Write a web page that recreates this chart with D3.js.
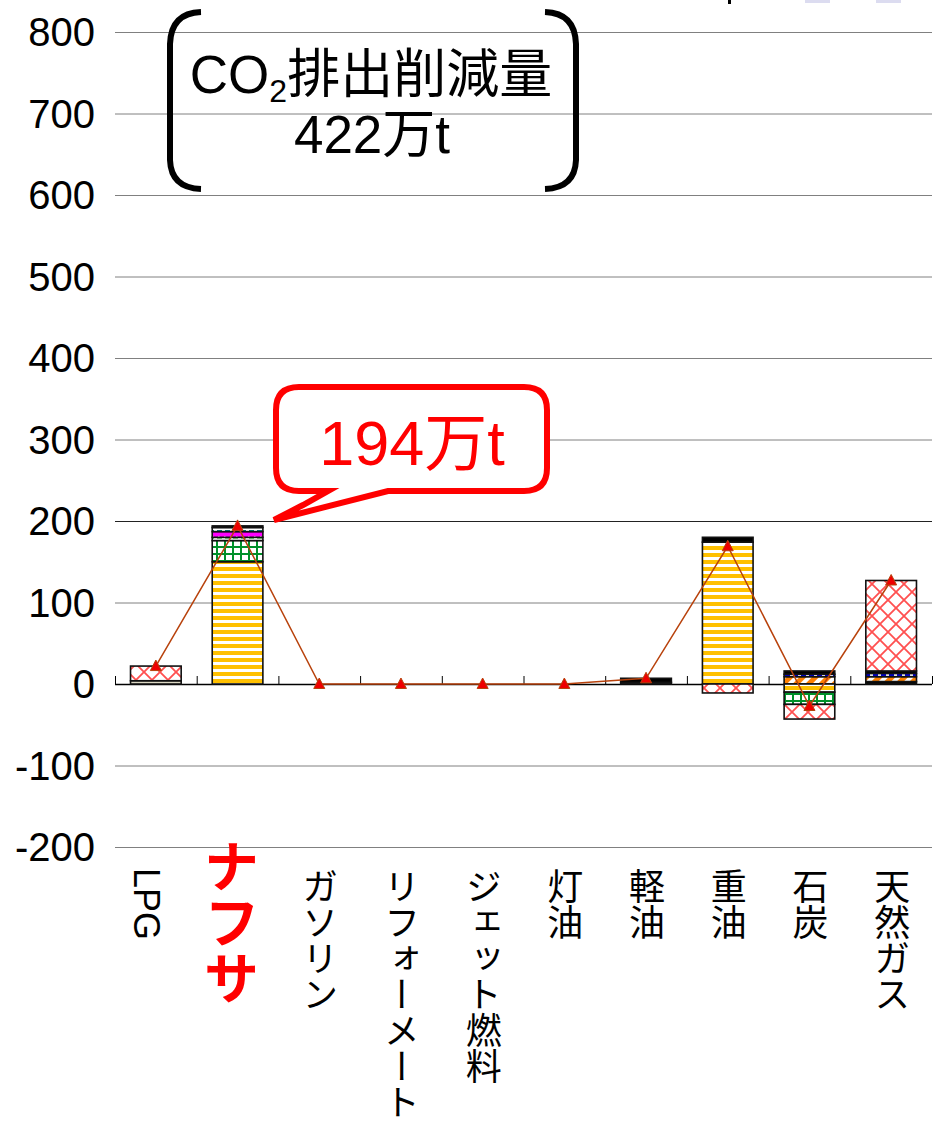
<!DOCTYPE html>
<html>
<head>
<meta charset="utf-8">
<script src="https://cdn.jsdelivr.net/npm/d3@7/dist/d3.min.js"></script>
<style>
  html, body { margin: 0; padding: 0; background: #fff; }
  svg { display: block; }
  text { font-family: "Liberation Sans", Arial, "Noto Sans CJK JP", sans-serif; }
</style>
</head>
<body>
<svg id="chart" width="942" height="1135"></svg>
<script>
// Fuel categories along the x axis
const categories = ["LPG", "ナフサ", "ガソリン", "リフォーメート", "ジェット燃料", "灯油", "軽油", "重油", "石炭", "天然ガス"];

// Stacked components (万t-CO2), bottom to top in stacking order
const beige     = [4, 0, 0, 0, 0, 0, 2, 0, 0, 0];
const blackA    = [0, 0, 0, 0, 0, 0, 5, 0, 0, 3];
const orange    = [0, 0, 0, 0, 0, 0, 0, 0, 9, 6];
const yellow    = [0, 150, 0, 0, 0, 0, 0, 174, -10, 0];
const greenGrid = [0, 26, 0, 0, 0, 0, 0, 0, -15, 0];
const greenDash = [0, 4, 0, 0, 0, 0, 0, 0, 0, 0];
const magenta   = [0, 7, 0, 0, 0, 0, 0, 0, 0, 0];
const tealDash  = [0, 5, 0, 0, 0, 0, 0, 0, 0, 0];
const blueDash  = [0, 0, 0, 0, 0, 0, 0, 0, 3, 4];
const blackB    = [0, 2, 0, 0, 0, 0, 0, 6, 4, 3];
const cross     = [18, 0, 0, 0, 0, 0, 0, -11, -18, 111];

// Net total per fuel (line with triangle markers)
const totals = [22, 194, 0, 0, 0, 0, 7, 169, -27, 127];

// Y axis ticks
const yTicks = [-200, -100, 0, 100, 200, 300, 400, 500, 600, 700, 800];

const seriesDefs = [
  { key: "beige", values: beige, fill: "#dcd8c4" },
  { key: "blackA", values: blackA, fill: "#000" },
  { key: "orange", values: orange, fill: "url(#pOrange)" },
  { key: "yellow", values: yellow, fill: "url(#pYellow)" },
  { key: "greenGrid", values: greenGrid, fill: "url(#pGreenGrid)" },
  { key: "greenDash", values: greenDash, fill: "url(#pGreenDash)" },
  { key: "magenta", values: magenta, fill: "url(#pMagenta)" },
  { key: "tealDash", values: tealDash, fill: "url(#pTealDash)" },
  { key: "blueDash", values: blueDash, fill: "url(#pBlueDash)" },
  { key: "blackB", values: blackB, fill: "#000" },
  { key: "cross", values: cross, fill: "url(#pCross)" }
];

const svg = d3.select("#chart");
const plotLeft = 115, plotRight = 932, plotTop = 32, plotBottom = 847;

const x = d3.scaleBand().domain(categories).range([plotLeft, plotRight]).padding(0);
const y = d3.scaleLinear().domain([-200, 800]).range([plotBottom, plotTop]);
const barW = x.bandwidth() * 0.62;

// ---- patterns ----
const defs = svg.append("defs");
function pat(id, w, h, build, transform) {
  const p = defs.append("pattern").attr("id", id)
    .attr("patternUnits", "userSpaceOnUse").attr("width", w).attr("height", h);
  if (transform) p.attr("patternTransform", transform);
  build(p);
}
pat("pYellow", 8, 7, p => {
  p.append("rect").attr("width", 8).attr("height", 7).attr("fill", "#fff");
  p.append("rect").attr("width", 8).attr("height", 4).attr("fill", "#ffc000");
});
pat("pGreenGrid", 8, 7, p => {
  p.append("rect").attr("width", 8).attr("height", 7).attr("fill", "#fff");
  p.append("rect").attr("width", 8).attr("height", 2).attr("fill", "#00902a");
  p.append("rect").attr("width", 2).attr("height", 7).attr("fill", "#00902a");
});
pat("pCross", 16, 16, p => {
  p.append("rect").attr("width", 16).attr("height", 16).attr("fill", "#fff");
  p.append("path").attr("d", "M0,0L16,16M16,0L0,16M-1,15L1,17M15,-1L17,1")
    .attr("stroke", "#ff5050").attr("stroke-width", 1.8).attr("fill", "none");
});
pat("pOrange", 9, 9, p => {
  p.append("rect").attr("width", 9).attr("height", 9).attr("fill", "#fff");
  p.append("rect").attr("width", 5).attr("height", 9).attr("fill", "#ff8000");
}, "rotate(45)");
pat("pBlueDash", 8, 6, p => {
  p.append("rect").attr("width", 8).attr("height", 6).attr("fill", "#fff");
  p.append("rect").attr("x", 1).attr("y", 2).attr("width", 5).attr("height", 2).attr("fill", "#0000e0");
});
pat("pTealDash", 8, 6, p => {
  p.append("rect").attr("width", 8).attr("height", 6).attr("fill", "#fff");
  p.append("rect").attr("x", 1).attr("y", 2).attr("width", 5).attr("height", 2).attr("fill", "#008080");
});
pat("pGreenDash", 8, 5, p => {
  p.append("rect").attr("width", 8).attr("height", 5).attr("fill", "#fff");
  p.append("rect").attr("x", 1).attr("y", 2).attr("width", 5).attr("height", 1.5).attr("fill", "#00a000");
});
pat("pMagenta", 6, 6, p => {
  p.append("rect").attr("width", 6).attr("height", 6).attr("fill", "#ff00ff");
  p.append("rect").attr("x", 2).attr("y", 2).attr("width", 1.5).attr("height", 1.5).attr("fill", "#fff");
});

// ---- gridlines and y labels ----
const grid = svg.append("g");
grid.selectAll("line").data(yTicks).join("line")
  .attr("x1", plotLeft).attr("x2", plotRight)
  .attr("y1", d => y(d) + 0.5).attr("y2", d => y(d) + 0.5)
  .attr("stroke", d => d === 0 ? "#000" : (d === 200 ? "#222" : "#808080"))
  .attr("stroke-width", d => d === 0 ? 1.5 : 1);

svg.append("g").selectAll("text").data(yTicks).join("text")
  .attr("x", 95).attr("y", d => y(d))
  .attr("dy", "0.35em")
  .attr("text-anchor", "end")
  .attr("font-size", 40)
  .attr("fill", "#000")
  .text(d => d);

// x-axis inner tick marks at category boundaries
const bounds = categories.map(c => x(c)).concat([plotRight]);
svg.append("g").selectAll("line").data(bounds).join("line")
  .attr("x1", d => d + 0.5).attr("x2", d => d + 0.5)
  .attr("y1", y(0) - 8).attr("y2", y(0))
  .attr("stroke", "#000").attr("stroke-width", 1);

// ---- stacked bars ----
const table = categories.map((c, i) => {
  const row = { cat: c };
  seriesDefs.forEach(s => { row[s.key] = s.values[i]; });
  return row;
});
const stack = d3.stack().keys(seriesDefs.map(s => s.key)).offset(d3.stackOffsetDiverging);
const stacked = stack(table);

const bars = svg.append("g");
stacked.forEach((layer, li) => {
  bars.append("g").selectAll("rect")
    .data(layer.filter(d => d[1] - d[0] !== 0))
    .join("rect")
    .attr("x", d => x(d.data.cat) + (x.bandwidth() - barW) / 2)
    .attr("width", barW)
    .attr("y", d => y(Math.max(d[0], d[1])))
    .attr("height", d => Math.abs(y(d[0]) - y(d[1])))
    .attr("fill", seriesDefs[li].fill)
    .attr("stroke", "#111")
    .attr("stroke-width", 1.6);
});

// ---- total line with triangle markers ----
const lineColor = "#b8420c";
const line = d3.line().x((d, i) => x(categories[i]) + x.bandwidth() / 2).y(d => y(d));
svg.append("path").datum(totals).attr("d", line)
  .attr("fill", "none").attr("stroke", lineColor).attr("stroke-width", 1.5);
svg.append("g").selectAll("path").data(totals).join("path")
  .attr("transform", (d, i) => `translate(${x(categories[i]) + x.bandwidth() / 2},${y(d)})`)
  .attr("d", "M0,-6L5.5,4.5L-5.5,4.5Z")
  .attr("fill", "#ee0000").attr("stroke", lineColor).attr("stroke-width", 1);

// ---- category labels (vertical) ----
svg.append("g").selectAll("text").data(categories).join("text")
  .attr("x", (d, i) => x(d) + x.bandwidth() / 2 + (i === 0 ? -9 : (i === 1 ? -6 : 1)))
  .attr("y", (d, i) => i === 1 ? 838 : 868)
  .attr("font-size", (d, i) => i === 1 ? 56 : 36)
  .attr("font-weight", (d, i) => i === 1 ? 700 : 400)
  .attr("fill", (d, i) => i === 1 ? "#ff0000" : "#000")
  .style("writing-mode", "vertical-rl")
  .style("font-family", (d, i) => i === 0 ? "'Liberation Sans', Arial, sans-serif" : "'Noto Sans CJK JP', sans-serif")
  .text(d => d);

// ---- legend fragment along the top edge ----
svg.append("rect").attr("x", 728).attr("y", 0).attr("width", 3).attr("height", 4).attr("fill", "#000");
svg.append("rect").attr("x", 805).attr("y", 0).attr("width", 25).attr("height", 3).attr("fill", "#dcdcf0");
svg.append("rect").attr("x", 876).attr("y", 0).attr("width", 25).attr("height", 3).attr("fill", "#dcdcf0");

// ---- bracketed headline ----
const br = svg.append("g").attr("fill", "none").attr("stroke", "#000").attr("stroke-width", 6);
br.append("path").attr("d", "M201,12 Q171,13 170,44 L170,160 Q171,188 201,189");
br.append("path").attr("d", "M545,12 Q575,13 576,44 L576,160 Q575,188 545,189");

const head = svg.append("text").attr("x", 371).attr("y", 93)
  .attr("text-anchor", "middle").attr("font-size", 53).attr("fill", "#000");
head.append("tspan").text("CO");
head.append("tspan").attr("font-size", 32).attr("dy", 9).text("2");
head.append("tspan").attr("dy", -9).text("排出削減量");
svg.append("text").attr("x", 372).attr("y", 153)
  .attr("text-anchor", "middle").attr("font-size", 53).attr("fill", "#000")
  .text("422万t");

// ---- callout for naphtha total ----
const co = svg.append("g");
co.append("path")
  .attr("d", "M299,387 L524,387 Q547,387 547,410 L547,468 Q547,491 524,491 L388,491 L274,520 L303,505 L328,491 L299,491 Q276,491 276,468 L276,410 Q276,387 299,387 Z")
  .attr("fill", "#fff").attr("stroke", "#ff0000").attr("stroke-width", 6).attr("stroke-linejoin", "miter");
co.append("text").attr("x", 412).attr("y", 465)
  .attr("text-anchor", "middle").attr("font-size", 63).attr("fill", "#ff0000")
  .text(`${totals[1]}万t`);
</script>
</body>
</html>
